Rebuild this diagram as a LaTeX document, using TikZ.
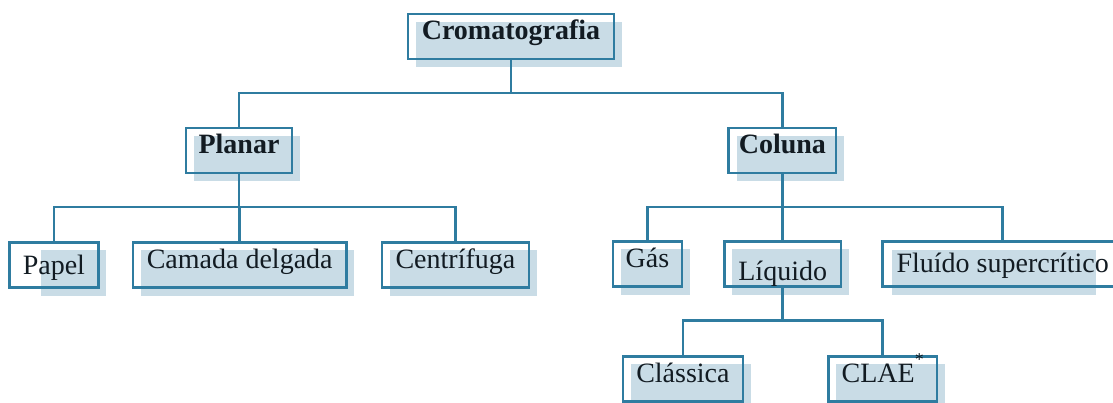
\documentclass[tikz,border=0pt]{standalone}
\usepackage{fontspec}
\setmainfont{Liberation Serif}
\usepackage{xcolor}
\usepackage{tikz}
\usetikzlibrary{positioning, backgrounds}
\definecolor{boxblue}{HTML}{2F7CA0}
\definecolor{shadeblue}{HTML}{C9DCE6}
\definecolor{inkcol}{HTML}{121B22}

\begin{document}
\begin{tikzpicture}[x=1pt, y=-1pt, catnode/.style={draw=boxblue, line width=2.5pt, inner sep=0pt, outer sep=0pt, minimum height=45pt, text height=20pt, text depth=13pt, text=inkcol, font=\fontsize{28}{32}\selectfont}, link/.style={draw=boxblue, line width=2.5pt}, shadenode/.style={fill=shadeblue}]

    \useasboundingbox (0,0) rectangle (1113,403);

    %Nodes
    \node[catnode, minimum width=206pt](crom) at (511,36.5){\textbf{Cromatografia}};

    \node[catnode, minimum width=106pt](planar) at (239,150.5){\textbf{Planar}};
    \node[catnode, minimum width=107.6pt](coluna) at (782.4,150.5){\textbf{Coluna}};

    \node[catnode, minimum width=88.8pt, text depth=1.5pt](papel) at (53.9,265){Papel};
    \node[catnode, minimum width=213.4pt](camada)[right=34.7pt of papel]{Camada delgada};
    \node[catnode, minimum width=147.2pt](centri)[right=35.4pt of camada]{Centrífuga};

    \node[catnode, minimum width=69pt](gas) at (647.5,264){Gás};
    \node[catnode, minimum width=116.6pt, text height=34pt, text depth=2pt](liquido)[right=42.4pt of gas]{Líquido};
    \node[catnode, minimum width=240pt, text depth=2.5pt](fluido)[right=41.7pt of liquido]{Fluído supercrítico};

    \node[catnode, minimum width=120.2pt](classica) at (682.9,378.8){Clássica};
    \node[catnode, minimum width=108.6pt](clae)[right=85.4pt of classica]{CLAE\raisebox{17pt}{\fontsize{18}{18}\selectfont *}};

    %Shadows
    \begin{scope}[on background layer]
    \foreach \n in {crom, planar, coluna, camada, centri, gas, liquido, classica, clae}
        \fill[shadenode] ([shift={(8,8)}]\n.north west) rectangle ([shift={(8,8)}]\n.south east);
    \fill[shadenode] ([shift={(31,8)}]papel.north west) rectangle ([shift={(8,8)}]papel.south east);
    \fill[shadenode] ([shift={(9,9)}]fluido.north west) rectangle ([shift={(-27,8)}]fluido.south east);
    \end{scope}

    %Lines
    \draw[link] (crom.south) -- ++(0,34) -| (planar.north);
    \draw[link] (crom.south) -- ++(0,34) -| (coluna.north);
    \draw[link] (planar.south) -- ++(0,34) -| (papel.north);
    \draw[link] (planar.south) -- ++(0,34) -| (camada.north);
    \draw[link] (planar.south) -- ++(0,34) -| (centri.north);
    \draw[link] (coluna.south) -- ++(0,34) -| (gas.north);
    \draw[link] (coluna.south) -- ++(0,34) -| (liquido.north);
    \draw[link] (coluna.south) -- ++(0,34) -| (fluido.north);
    \draw[link] (liquido.south) -- ++(0,34) -| (classica.north);
    \draw[link] (liquido.south) -- ++(0,34) -| (clae.north);

\end{tikzpicture}
\end{document}
